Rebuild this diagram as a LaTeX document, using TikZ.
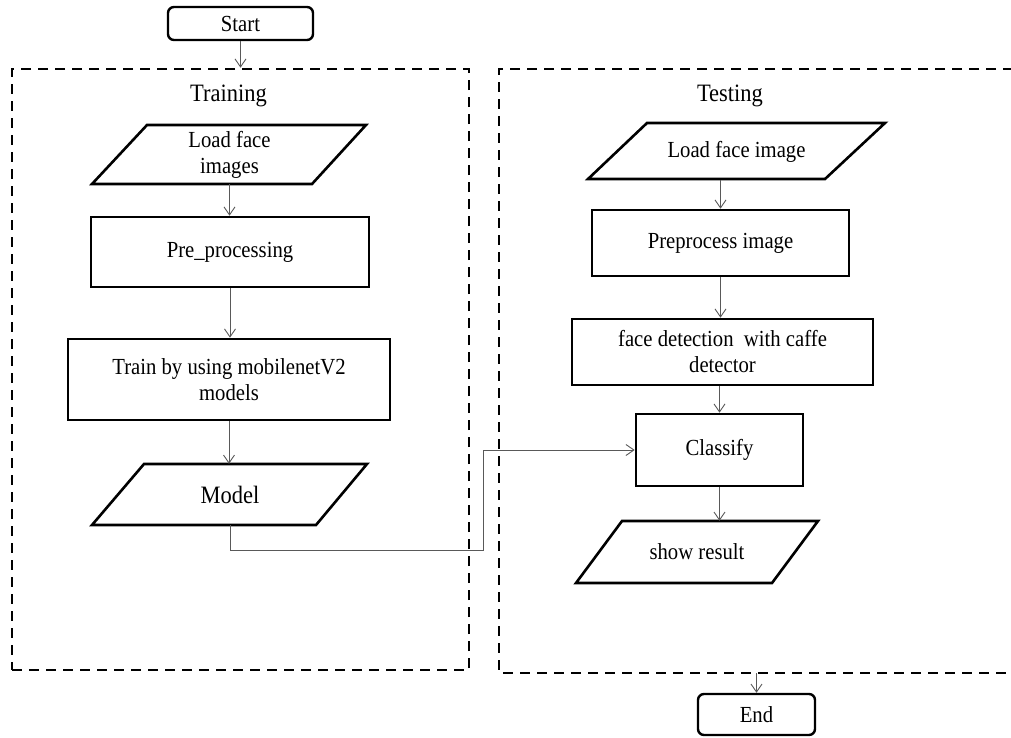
\documentclass[tikz,border=0pt]{standalone}
\usepackage{fontspec}
\setmainfont[FakeStretch=0.9]{Liberation Serif}
\usetikzlibrary{arrows.meta}
\begin{document}
\begin{tikzpicture}[x=1pt,y=-1pt,
  txt/.style={font=\fontsize{23}{26}\selectfont, align=center, inner sep=0pt},
  bigtxt/.style={font=\fontsize{25}{28}\selectfont, inner sep=0pt},
  procbox/.style={txt, draw=black, line width=2.6pt, minimum width=#1},
  termbox/.style={txt, draw=black, line width=2.4pt, rounded corners=6pt},
  iobox/.style={txt, minimum width=150pt},
  iopath/.style={draw=black, line width=2.6pt, line join=miter},
  region/.style={draw=black, line width=2.6pt, dash pattern=on 10pt off 7pt},
  arr/.style={draw=black!65, line width=0.9pt, -{Straight Barb[length=8pt,width=11pt]}},
  plain/.style={draw=black!65, line width=0.9pt}
]
\useasboundingbox (0,0) rectangle (1011,737);

% regions
\node[region, minimum width=457pt, minimum height=601pt, inner sep=0pt] (trainreg) at (240.5,369.5) {};
\draw[region] (1030,69) -- (499,69) -- (499,673) -- (1030,673);
\coordinate (tbot) at (756.5,673);

\node[bigtxt] (trainlbl) at (228.5,96) {Training};
\node[bigtxt] (testlbl) at (730,96) {Testing};

% terminals
\node[termbox, minimum width=145pt, minimum height=33pt] (start) at (240.5,23.5) {Start};
\node[termbox, minimum width=117pt, minimum height=41pt] (end) at (756.5,714.5) {End};

% training column
\draw[iopath] (147,125) -- (366,125) -- (312,184) -- (92,184) -- cycle;
\node[iobox, minimum height=59pt] (lfi) at (229.5,154.5) {Load face\\images};
\node[procbox=278pt, minimum height=70pt] (pre) at (230,252) {Pre\_processing};
\node[procbox=322pt, minimum height=81pt] (train) at (229,379.5) {Train by using mobilenetV2\\models};
\draw[iopath] (144,464) -- (367,464) -- (316,525) -- (92,525) -- cycle;
\node[iobox, minimum height=61pt, font=\fontsize{25}{28}\selectfont] (model) at (230,494.5) {Model};

% testing column
\draw[iopath] (647,123) -- (885,123) -- (825,179) -- (588,179) -- cycle;
\node[iobox, minimum height=56pt] (lfi2) at (736.5,152) {Load face image};
\node[procbox=257pt, minimum height=66pt] (prep) at (720.5,243) {Preprocess image};
\node[procbox=301pt, minimum height=66pt] (fd) at (722.5,352) {face detection\ \ with caffe\\detector};
\node[procbox=167pt, minimum height=72pt] (cls) at (719.5,450) {Classify};
\draw[iopath] (622,521) -- (818,521) -- (772,583) -- (576,583) -- cycle;
\node[iobox, minimum height=62pt] (sr) at (697,552) {show result};

% connectors
\draw[arr] (start.south) -- (trainreg.north);
\draw[arr] (lfi.south) -- (lfi.south |- pre.north);
\draw[arr] (pre.south) -- (pre.south |- train.north);
\draw[arr] (train.south) -- (train.south |- model.north);
\draw[arr] (prep.north |- lfi2.south) -- (prep.north);
\draw[arr] (prep.south) -- (prep.south |- fd.north);
\draw[arr] (cls.north |- fd.south) -- (cls.north);
\draw[arr] (cls.south) -- (cls.south |- sr.north);
\coordinate (bend) at (483,550);
\draw[arr] (model.south) |- (bend) |- (cls.west);
\draw[arr] (tbot) -- (end.north);
\end{tikzpicture}
\end{document}
